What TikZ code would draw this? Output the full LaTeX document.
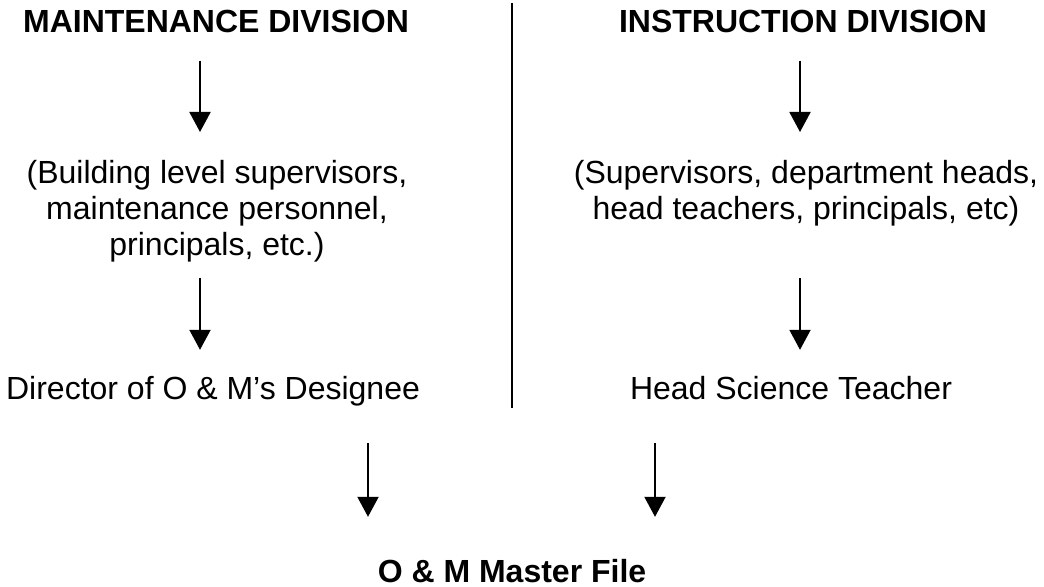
\documentclass[tikz,border=0pt]{standalone}
\usepackage{fontspec}
\setmainfont{Liberation Sans}
\usepackage{tikz}
\usetikzlibrary{arrows.meta,positioning}
\tikzset{
    title/.style={
           font=\fontsize{16}{18}\selectfont\bfseries,
           anchor=base,
           inner sep=0pt,
           },
    label/.style={
           font=\fontsize{16}{18}\selectfont,
           anchor=base,
           inner sep=0pt,
           },
    group/.style={
           font=\fontsize{16}{18}\selectfont,
           anchor=north,
           align=center,
           inner sep=0pt,
           },
    flow/.style={
           -{Triangle[width=10.5pt,length=10pt]},
           line width=1pt,
           },
}

\begin{document}
\begin{tikzpicture}[x=0.5pt,y=-0.5pt]

  \useasboundingbox (0,0) rectangle (1044,587);

  % divisions
  \node[title] (maint) at (216,33) {MAINTENANCE DIVISION};
  \node[title] (instr) at (803,33) {INSTRUCTION DIVISION};

  % who reports
  \node[group] (bldg) at (217,160) {(Building level supervisors,\\maintenance personnel,\\principals, etc.)};
  \node[group] (sup)  at (806,160) {(Supervisors, department heads,\\head teachers, principals, etc)};

  % designees
  \node[label] (dir)  at (213,400) {Director of O \& M’s Designee};
  \node[label] (hst)  at (791,400) {Head Science Teacher};

  \node[title] (master) at (512,582) {O \& M Master File};

  % arrow columns
  \coordinate (lx) at (200,0);
  \coordinate (rx) at (800,0);
  \coordinate (mx) at (368,0);
  \coordinate (nx) at (655,0);

  \draw[line width=1pt] (512,3) -- (512,408);

  \draw[flow, shorten <=13.5pt, shorten >=14pt] (maint.south -| lx) -- (bldg.north -| lx);
  \draw[flow, shorten <=13.5pt, shorten >=14pt] (instr.south -| rx) -- (sup.north -| rx);
  \draw[flow, shorten <=7.5pt, shorten >=13.3pt] (bldg.south -| lx) -- (dir.north -| lx);
  \draw[flow, shorten <=25.7pt, shorten >=13.3pt] (sup.south -| rx) -- (hst.north -| rx);
  \draw[flow, shorten <=18.2pt, shorten >=20.8pt] (dir.south -| mx) -- (master.north -| mx);
  \draw[flow, shorten <=21.2pt, shorten >=20.8pt] (hst.south -| nx) -- (master.north -| nx);

\end{tikzpicture}
\end{document}
